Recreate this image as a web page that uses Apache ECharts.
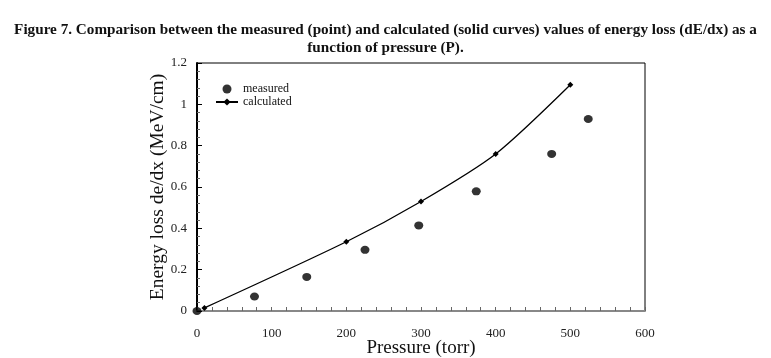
<!DOCTYPE html>
<html>
<head>
<meta charset="utf-8">
<script src="https://cdn.jsdelivr.net/npm/echarts@6/dist/echarts.min.js"></script>
<style>
html,body{margin:0;padding:0;background:#fff;}
#chart{width:771px;height:358px;}
</style>
</head>
<body>
<div id="chart"></div>
<script>
const titleLines = [
  "Figure 7. Comparison between the measured (point) and calculated (solid curves) values of energy loss (dE/dx) as a",
  "function of pressure (P)."
];
const xName = "Pressure (torr)";
const yName = "Energy loss de/dx (MeV/cm)";
const measuredName = "measured";
const calculatedName = "calculated";
const measuredP = [0, 77, 147, 225, 297, 374, 475, 524];
const measuredE = [0, 0.07, 0.165, 0.296, 0.414, 0.579, 0.76, 0.929];
const calculatedP = [10, 200, 300, 400, 500];
const calculatedE = [0.015, 0.335, 0.53, 0.76, 1.095];

const font = "'Liberation Serif', 'DejaVu Serif', serif";
const chart = echarts.init(document.getElementById('chart'));
chart.setOption({
  animation: false,
  backgroundColor: '#fff',
  title: {
    text: titleLines.join('\n'),
    left: 'center',
    top: 16,
    textStyle: {fontFamily: font, fontSize: 15.2, fontWeight: 'bold', color: '#111', lineHeight: 18}
  },
  legend: {
    left: 210, top: 78, orient: 'vertical', itemGap: 1, itemWidth: 22, itemHeight: 9,
    textStyle: {fontFamily: font, fontSize: 12, color: '#111', padding: [0,0,0,0]},
    data: [measuredName, calculatedName]
  },
  grid: {left: 197, right: 126, top: 63, bottom: 47, show: true, borderColor: '#000', borderWidth: 1,
    containLabel: false, outerBoundsMode: 'none'},
  xAxis: {
    type: 'value', min: 0, max: 600, interval: 100,
    name: xName, nameLocation: 'middle', nameGap: 28, nameMoveOverlap: false,
    nameTextStyle: {fontFamily: font, fontSize: 19, color: '#111'},
    axisLine: {show: true, lineStyle: {color: '#888', width: 2}},
    axisTick: {show: true, inside: true, length: 4, lineStyle: {color: '#666'}},
    minorTick: {show: true, splitNumber: 5, length: 4, lineStyle: {color: '#666'}},
    axisLabel: {fontFamily: font, fontSize: 13, color: '#222', margin: 16},
    splitLine: {show: false}
  },
  yAxis: {
    type: 'value', min: 0, max: 1.2, interval: 0.2,
    name: yName, nameLocation: 'middle', nameGap: 29, nameMoveOverlap: false,
    nameTextStyle: {fontFamily: font, fontSize: 19.5, color: '#111'},
    axisLine: {show: true, lineStyle: {color: '#000', width: 2}},
    axisTick: {show: true, inside: true, length: 5, lineStyle: {color: '#000'}},
    minorTick: {show: true, splitNumber: 5, length: 3, lineStyle: {color: '#666'}},
    axisLabel: {fontFamily: font, fontSize: 13, color: '#222', margin: 10,
      formatter: v => String(Math.round(v * 10) / 10)},
    splitLine: {show: false}
  },
  series: [
    {
      name: measuredName, type: 'scatter', symbol: 'circle', symbolSize: [9, 8],
      itemStyle: {color: '#000'}, clip: false,
      data: measuredP.map((p, i) => [p, measuredE[i]])
    },
    {
      name: calculatedName, type: 'line', smooth: 0.25, symbol: 'diamond', symbolSize: 6,
      showSymbol: true, lineStyle: {color: '#000', width: 1.3}, itemStyle: {color: '#000'},
      data: calculatedP.map((p, i) => [p, calculatedE[i]])
    }
  ]
});
</script>
</body>
</html>
